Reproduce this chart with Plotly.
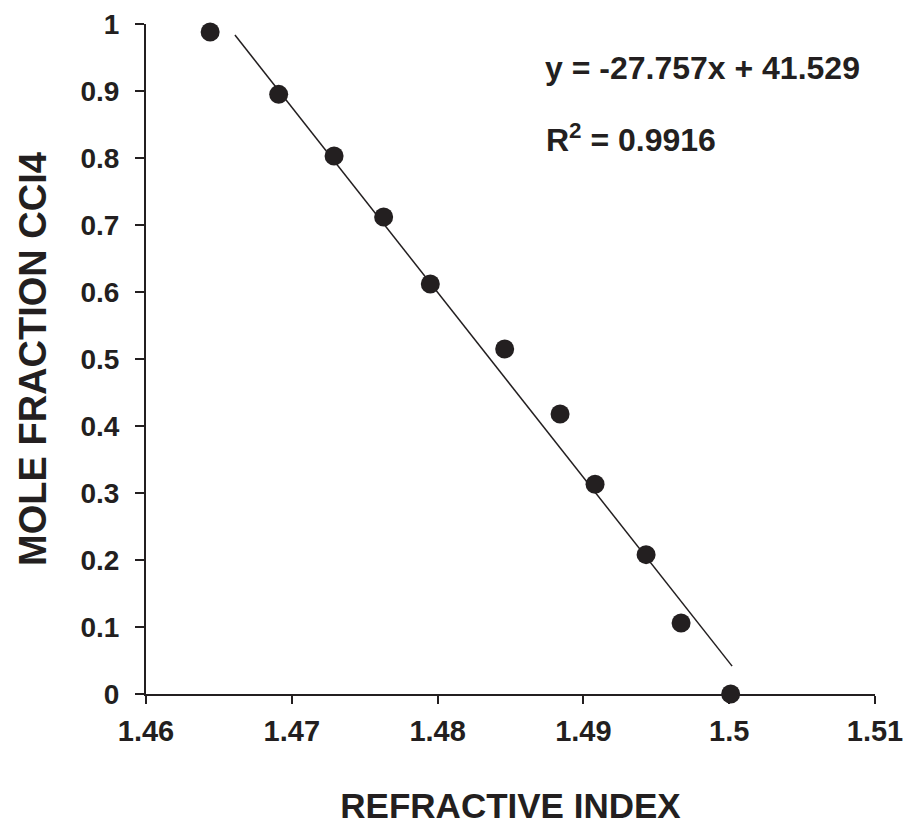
import numpy as np
import plotly.graph_objects as go

# Data
refractive_index = [1.4644, 1.4691, 1.4729, 1.4763, 1.4795, 1.4846, 1.4884, 1.4908, 1.4943, 1.4967, 1.5001]
mole_fraction = [0.988, 0.895, 0.803, 0.712, 0.612, 0.515, 0.418, 0.313, 0.208, 0.106, 0.0]

trend_x_range = [1.4661, 1.5002]

x_tickvals = [1.46, 1.47, 1.48, 1.49, 1.50, 1.51]
x_ticktext = ["1.46", "1.47", "1.48", "1.49", "1.5", "1.51"]
y_tickvals = [0, 0.1, 0.2, 0.3, 0.4, 0.5, 0.6, 0.7, 0.8, 0.9, 1.0]
y_ticktext = ["0", "0.1", "0.2", "0.3", "0.4", "0.5", "0.6", "0.7", "0.8", "0.9", "1"]

equation_text = "y = -27.757x + 41.529"
r2_text = "R<sup>2</sup> = 0.9916"

INK = "#231f20"
FONT = "Liberation Sans, Arial, sans-serif"

# linear trendline fitted through the data
slope, intercept = np.polyfit(refractive_index, mole_fraction, 1)
tx = np.array(trend_x_range)
ty = slope * tx + intercept

fig = go.Figure()
fig.add_trace(go.Scatter(
    x=tx, y=ty, mode="lines",
    line=dict(color=INK, width=1.5),
    hoverinfo="skip", showlegend=False, cliponaxis=False,
))
fig.add_trace(go.Scatter(
    x=refractive_index, y=mole_fraction, mode="markers",
    marker=dict(size=19, color=INK, line=dict(width=0)),
    showlegend=False, cliponaxis=False,
))

fig.add_annotation(
    x=1.4872, y=0.935, xref="x", yref="y", xanchor="left", yanchor="middle",
    text=equation_text, showarrow=False,
    font=dict(family=FONT, size=32, color=INK, weight="bold"),
)
fig.add_annotation(
    x=1.4873, y=0.83, xref="x", yref="y", xanchor="left", yanchor="middle",
    text=r2_text, showarrow=False,
    font=dict(family=FONT, size=32, color=INK, weight="bold"),
)

# margins compensate for the page's 8px body offset
fig.update_layout(
    width=914, height=825,
    margin=dict(l=138, r=47, t=16, b=139, autoexpand=False),
    paper_bgcolor="white", plot_bgcolor="white",
    font=dict(family=FONT, color=INK),
    showlegend=False,
)
fig.update_xaxes(
    range=[1.46, 1.51], tickmode="array", tickvals=x_tickvals, ticktext=x_ticktext,
    showgrid=False, zeroline=False, showline=True, linecolor=INK, linewidth=2,
    ticks="outside", ticklen=8, tickwidth=2, tickcolor=INK,
    ticklabelstandoff=2, automargin=False,
    tickfont=dict(family=FONT, size=29, color=INK, weight="bold"),
    title=dict(text="REFRACTIVE INDEX", standoff=48,
               font=dict(family=FONT, size=35, color=INK, weight="bold")),
)
fig.update_yaxes(
    range=[0, 1], tickmode="array", tickvals=y_tickvals, ticktext=y_ticktext,
    showgrid=False, zeroline=False, showline=True, linecolor=INK, linewidth=2,
    ticks="outside", ticklen=9, tickwidth=2, tickcolor=INK,
    ticklabelstandoff=10, automargin=False,
    tickfont=dict(family=FONT, size=28, color=INK, weight="bold"),
    title=dict(text="MOLE FRACTION CCI4", standoff=22,
               font=dict(family=FONT, size=38, color=INK, weight="bold")),
)

fig.write_html("out.html")
